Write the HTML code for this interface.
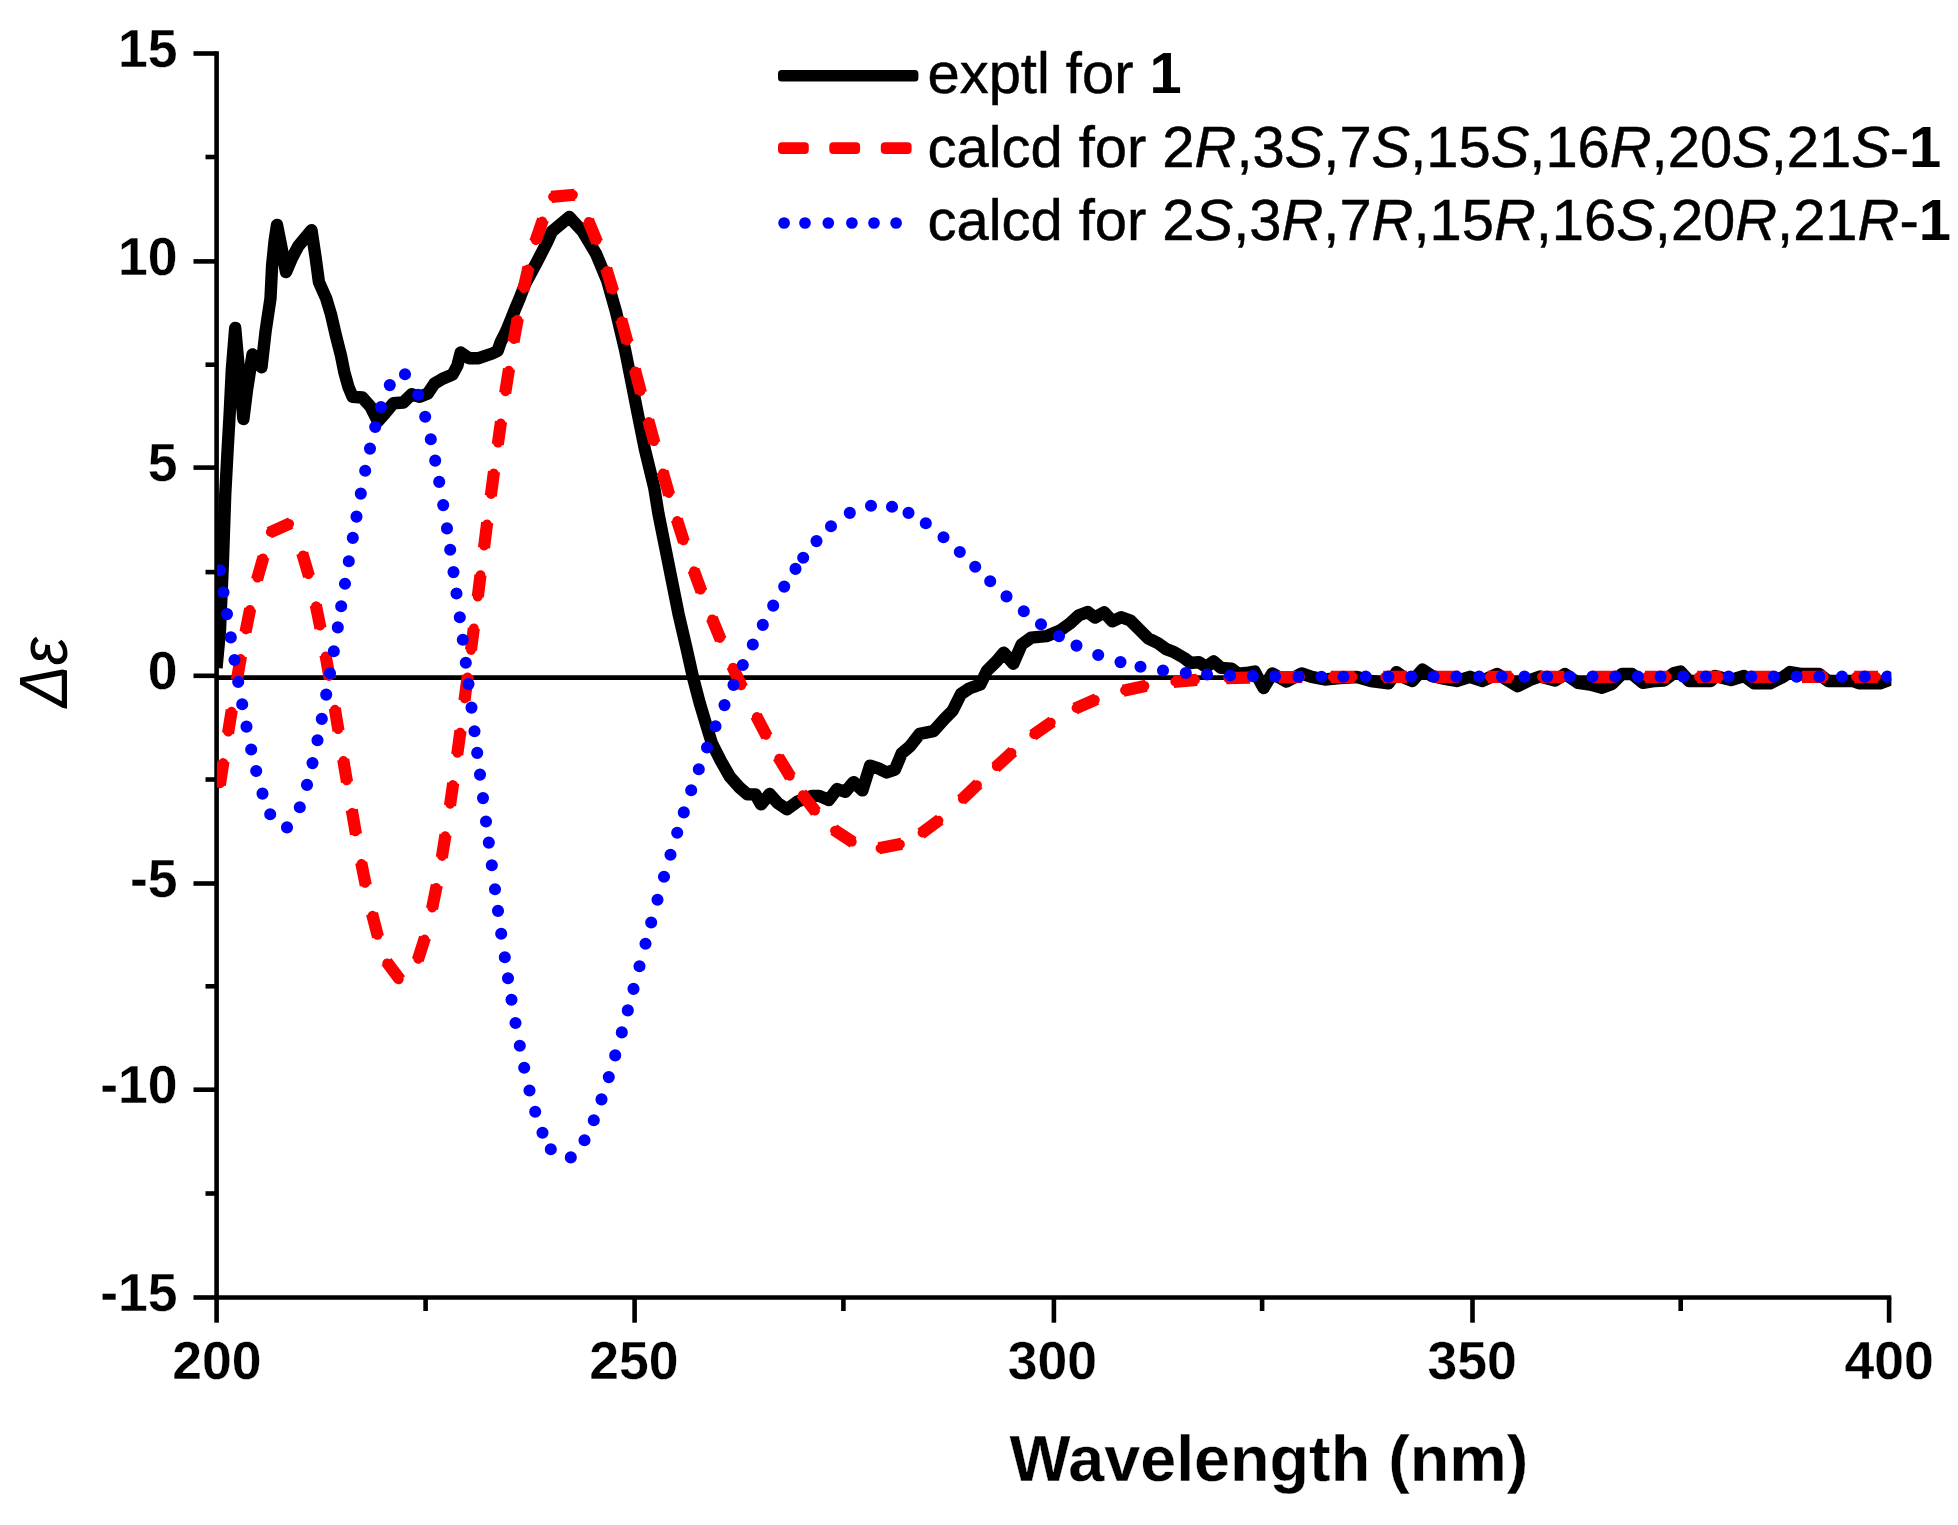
<!DOCTYPE html>
<html lang="en"><head><meta charset="utf-8"><title>ECD spectra</title>
<style>
html,body{margin:0;padding:0;background:#fff;}
body{width:1958px;height:1525px;overflow:hidden;}
svg{display:block;}
text{font-family:"Liberation Sans",Arial,sans-serif;fill:#000;}
.tk{font-weight:bold;font-size:53.5px;stroke:#fff;stroke-width:0.3px;}
.b{font-weight:bold;stroke:#fff;stroke-width:0.3px;}
.b1{font-weight:bold;stroke:none;}
.lg{font-size:57.9px;stroke:#000;stroke-width:0.5px;}
</style></head><body>
<svg width="1958" height="1525" viewBox="0 0 1958 1525">
<rect width="1958" height="1525" fill="#fff"/>

<g stroke="#000" stroke-width="4.6" fill="none" stroke-linecap="butt">
<path d="M216.6 51.2V1299.8"/>
<path d="M214.29999999999998 1297.5H1891.3"/>
<path d="M193.5 53.5H216.6"/>
<path d="M193.5 261.4H216.6"/>
<path d="M193.5 467.6H216.6"/>
<path d="M193.5 675.8H216.6"/>
<path d="M193.5 883.5H216.6"/>
<path d="M193.5 1089.7H216.6"/>
<path d="M193.5 1297.5H216.6"/>
<path d="M205.5 157.0H216.6"/>
<path d="M205.5 364.7H216.6"/>
<path d="M205.5 572.1H216.6"/>
<path d="M205.5 779.5H216.6"/>
<path d="M205.5 986.3H216.6"/>
<path d="M205.5 1193.5H216.6"/>
<path d="M216.6 1297.5V1322.7"/>
<path d="M634.6 1297.5V1322.7"/>
<path d="M1053.9 1297.5V1322.7"/>
<path d="M1472.5 1297.5V1322.7"/>
<path d="M1889.1 1297.5V1322.7"/>
<path d="M425.6 1297.5V1311"/>
<path d="M843.4 1297.5V1311"/>
<path d="M1262.1 1297.5V1311"/>
<path d="M1680.7 1297.5V1311"/>
</g>
<defs><clipPath id="pc"><rect x="216.9" y="40" width="1674.5" height="1255"/></clipPath></defs>
<path d="M216 677.6H1891" stroke="#000" stroke-width="4.6" fill="none"/>
<g clip-path="url(#pc)" fill="none">
<path stroke="#000" stroke-width="12.4" stroke-linejoin="round" stroke-linecap="butt" d="M216.5 668.0L220.0 630.0L222.8 565.0L225.2 495.0L227.6 450.0L229.6 415.0L231.8 370.0L235.2 328.0L238.5 365.0L243.4 419.0L247.0 390.0L252.5 354.5L257.0 360.0L261.5 367.2L265.6 331.1L270.5 298.4L272.1 265.6L274.6 241.0L277.0 225.0L281.0 245.0L286.0 272.1L292.0 258.0L298.4 245.9L305.0 238.0L311.5 230.3L315.6 257.4L318.9 282.0L326.2 298.4L331.1 314.8L336.0 336.0L341.0 355.7L344.3 372.1L348.4 386.9L352.5 396.7L362.3 397.5L370.5 406.6L377.9 421.3L385.2 413.1L393.4 403.3L403.3 402.5L411.5 394.3L419.7 396.7L427.9 393.4L434.4 383.6L442.6 378.7L452.5 374.6L457.4 365.6L460.7 352.5L468.9 358.2L478.7 358.2L492.3 353.5L497.6 351.0L500.7 342.0L506.0 331.5L511.2 318.9L515.4 308.4L519.6 298.5L525.2 283.9L536.4 263.0L547.2 242.0L551.9 231.5L569.3 217.0L582.6 231.4L596.0 253.7L607.1 280.4L616.0 311.7L625.0 349.6L631.7 383.0L638.3 416.5L645.0 449.9L654.3 488.0L658.4 513.5L665.1 546.9L671.8 580.4L678.5 613.8L686.3 647.3L693.0 677.4L699.7 703.0L706.4 725.3L711.9 743.2L720.9 761.0L729.8 776.6L739.8 787.8L747.6 794.4L755.4 794.4L761.0 804.4L769.7 794.0L777.8 803.2L787.0 809.3L797.6 801.5L812.3 795.9L819.2 795.9L828.8 800.0L837.1 789.0L845.4 791.8L853.6 782.1L862.4 790.4L870.1 765.6L878.4 768.4L886.7 772.5L894.9 769.7L901.8 753.2L910.1 746.3L919.7 733.9L933.5 731.2L944.5 718.8L952.7 710.6L961.0 694.0L969.2 688.5L980.3 684.4L987.1 670.6L996.8 661.0L1003.7 652.7L1013.3 663.7L1021.6 644.5L1031.2 637.6L1046.3 636.2L1060.1 630.5L1069.5 623.8L1078.5 615.6L1087.7 612.0L1095.0 617.5L1104.1 612.3L1112.3 621.3L1121.3 617.2L1130.3 620.5L1138.4 628.6L1148.2 638.4L1158.1 643.3L1166.2 649.1L1174.4 652.3L1184.2 658.0L1190.7 663.0L1198.9 662.1L1206.3 667.0L1213.6 661.3L1221.0 667.9L1231.6 668.7L1238.1 673.6L1246.0 673.0L1254.6 671.6L1263.6 688.0L1272.3 673.5L1286.5 681.5L1301.6 673.5L1311.7 676.9L1324.8 679.5L1340.0 678.0L1357.0 677.0L1371.0 681.0L1388.5 683.3L1396.5 672.2L1405.0 678.0L1412.3 681.0L1422.5 669.7L1432.0 676.0L1445.0 679.0L1456.5 681.0L1470.0 676.8L1482.0 681.0L1497.2 674.0L1517.5 686.2L1530.0 680.0L1540.0 676.5L1555.0 680.5L1565.0 674.0L1578.0 682.9L1590.0 684.5L1602.0 687.8L1612.0 684.0L1622.0 673.9L1632.0 674.0L1643.0 682.9L1655.0 681.0L1664.0 680.5L1674.0 673.0L1680.6 671.6L1689.0 681.0L1711.0 681.0L1715.0 676.0L1731.0 680.0L1744.0 676.0L1754.0 683.3L1770.0 683.3L1783.0 677.0L1790.0 672.0L1802.0 674.0L1819.0 674.0L1828.0 681.0L1853.0 681.0L1859.0 683.3L1880.0 683.3L1892.0 679.0"/>
<path stroke="#f00" stroke-width="12.2" stroke-linecap="butt" d="M219.8 785.0L223.5 761.4M228.0 733.2L231.8 710.1M236.8 680.3L241.0 656.2M245.5 632.1L250.2 608.7M257.0 579.6L263.5 556.9M269.2 532.7L290.7 523.1M302.2 553.1L309.0 576.2M315.8 605.0L320.5 628.3M325.5 654.9L329.8 678.9M334.8 708.2L338.5 730.7M343.2 759.4L347.0 781.9M351.8 809.9L356.0 834.2M361.2 862.6L365.8 885.3M372.0 913.6L378.0 936.7M386.5 961.6L400.2 979.8M417.8 960.1L425.0 937.7M432.0 908.8L436.8 885.3M441.8 857.4L445.5 834.7M450.0 805.5L453.2 783.2M457.2 754.7L460.5 730.7M464.5 700.5L467.8 675.4M471.0 650.0L473.8 628.3M477.8 596.7L480.5 575.1M484.0 547.7L487.2 522.5M490.8 495.9L494.0 471.6M497.8 444.4L501.0 421.6M505.2 393.0L509.0 369.0M513.5 342.0L517.8 318.3M523.2 290.5L528.5 267.2M535.2 241.9L543.0 219.6M551.3 196.9L574.7 194.7M588.0 220.2L597.2 242.3M606.2 268.5L613.2 291.4M621.2 319.4L627.5 342.3M634.8 369.4L641.0 392.9M648.2 420.0L654.5 443.0M662.5 471.5L669.2 494.7M676.8 519.3L684.0 541.9M693.5 569.8L701.5 591.7M711.8 618.1L720.8 639.8M732.2 666.0L742.2 687.5M756.0 715.6L767.0 736.6M778.2 756.8L790.5 777.0M801.5 793.3L816.0 811.9M833.8 829.6L853.2 842.4M878.8 848.3L901.8 843.7M921.0 833.6L939.8 819.6M961.2 800.2L978.2 783.9M995.5 767.4L1013.0 751.5M1032.8 735.3L1052.2 721.7M1075.0 708.7L1096.5 699.2M1123.2 690.7L1146.2 685.7M1173.5 681.8L1197.0 679.8M1226.2 678.2L1250.0 677.6M1278.5 677.1L1302.2 677.0M1330.8 676.9L1354.5 676.8M1383.2 676.8L1407.0 676.8M1435.5 676.8L1459.2 676.8M1487.8 676.8L1511.5 676.8M1540.2 676.8L1564.0 676.8M1592.5 676.8L1616.2 676.8M1645.0 676.8L1668.8 676.8M1697.2 676.8L1721.0 676.8M1749.8 676.8L1773.5 676.8M1802.0 676.8L1825.8 676.8M1854.2 676.8L1878.0 676.8"/>
<path stroke="#f00" stroke-width="9.8" stroke-linecap="round" d="M220.0 783.4L223.2 763.0M228.2 731.7L231.5 711.7M237.2 677.4L240.5 658.9M246.0 629.5L250.0 609.9M257.5 577.7L263.0 558.4M270.8 532.0L289.1 523.8M303.0 555.4L308.5 574.2M316.0 606.2L320.0 625.7M325.8 656.3L329.2 676.0M335.0 709.7L338.2 729.2M343.5 760.9L346.8 780.4M352.2 812.8L355.5 831.4M361.5 863.9L365.2 882.9M372.5 915.7L377.5 934.9M387.2 963.3L398.8 979.3M418.2 958.8L424.5 939.5M432.2 907.6L436.2 887.9M442.0 856.0L445.2 836.2M450.2 803.8L453.0 785.0M457.5 752.9L460.2 732.6M464.8 698.5L467.5 677.3M471.0 650.0L473.8 628.3M477.8 596.7L480.5 575.1M484.2 545.7L487.0 524.4M491.0 494.0L493.8 473.5M498.0 442.7L500.8 423.4M505.5 391.4L508.8 370.6M514.0 339.1L517.5 319.7M523.8 288.2L528.0 269.3M535.8 240.2L542.2 221.4M553.0 196.8L573.0 194.8M588.8 221.8L596.5 240.3M607.0 270.9L612.8 289.7M621.8 321.2L627.0 340.4M635.2 371.3L640.5 391.0M648.8 421.9L654.0 441.2M663.0 473.3L668.8 493.0M677.2 520.9L683.5 540.4M694.0 571.2L700.8 589.7M712.2 619.3L720.0 638.0M733.0 667.6L741.2 685.4M756.8 717.0L766.0 734.8M779.2 758.6L789.8 775.8M802.8 795.1L815.0 810.7M835.0 830.7L851.8 841.7M880.5 848.3L900.0 844.4M922.5 832.6L938.5 820.6M962.8 798.8L977.0 785.1M996.8 766.2L1011.5 752.8M1034.2 734.2L1050.8 722.6M1076.5 708.0L1094.8 699.9M1125.0 690.3L1144.5 686.0M1175.2 681.6L1195.0 679.9M1228.2 678.2L1248.0 677.6M1280.5 677.1L1300.2 677.0M1332.8 676.9L1352.5 676.8M1385.2 676.8L1405.0 676.8M1437.5 676.8L1457.2 676.8M1489.8 676.8L1509.5 676.8M1542.0 676.8L1562.0 676.8M1594.2 676.8L1614.2 676.8M1646.8 676.8L1666.8 676.8M1699.0 676.8L1719.0 676.8M1751.5 676.8L1771.5 676.8M1803.8 676.8L1823.8 676.8M1856.0 676.8L1876.0 676.8"/>
<path stroke="#00f" stroke-width="12.1" stroke-linecap="round" d="M220.0 570.2h0M223.5 592.2h0M227.0 614.1h0M230.8 637.4h0M234.5 660.0h0M238.2 681.9h0M242.2 704.3h0M246.5 726.6h0M251.2 749.5h0M256.2 771.0h0M262.5 793.6h0M270.2 814.2h0M287.0 827.4h0M299.8 807.3h0M307.0 784.9h0M312.5 763.1h0M317.5 740.3h0M321.8 718.9h0M326.2 694.6h0M330.0 673.3h0M333.8 651.3h0M337.8 627.4h0M341.2 606.3h0M345.0 583.7h0M348.8 561.3h0M352.8 537.9h0M356.5 516.6h0M360.8 493.6h0M365.2 470.7h0M370.0 448.6h0M375.2 427.0h0M381.0 407.0h0M389.8 385.1h0M405.0 374.3h0M418.2 394.8h0M425.2 416.8h0M430.8 439.2h0M435.2 460.6h0M439.2 481.9h0M443.2 505.1h0M447.0 528.4h0M450.2 549.8h0M453.5 572.1h0M456.5 593.5h0M459.8 617.3h0M462.8 639.8h0M465.8 662.7h0M468.5 684.1h0M471.5 707.6h0M474.5 731.2h0M477.2 752.9h0M480.0 774.6h0M483.0 798.1h0M486.0 821.5h0M488.8 842.6h0M491.8 865.3h0M495.0 889.3h0M498.0 910.9h0M501.2 933.7h0M504.8 957.3h0M508.0 978.3h0M511.5 999.8h0M515.5 1023.0h0M519.8 1045.8h0M524.2 1067.8h0M529.5 1090.5h0M535.2 1111.7h0M542.5 1132.8h0M550.8 1149.3h0M570.8 1157.4h0M584.5 1140.2h0M593.8 1120.3h0M601.5 1099.4h0M608.8 1077.1h0M615.2 1055.4h0M621.8 1032.4h0M627.8 1010.4h0M633.5 988.9h0M639.5 966.3h0M645.5 943.8h0M651.2 922.5h0M657.5 899.8h0M664.0 876.8h0M670.5 854.7h0M677.2 832.7h0M683.8 812.4h0M691.2 790.3h0M698.8 769.3h0M707.0 747.5h0M715.5 726.3h0M724.5 705.1h0M733.5 684.9h0M742.8 665.0h0M752.8 644.5h0M762.8 624.9h0M773.2 605.6h0M784.2 586.6h0M795.5 568.9h0M803.2 557.8h0M816.5 541.1h0M831.0 526.3h0M849.8 512.9h0M871.0 505.8h0M892.0 506.8h0M908.5 512.9h0M925.8 523.2h0M943.5 537.2h0M959.8 552.0h0M975.2 566.8h0M990.2 581.3h0M1006.5 596.4h0M1023.8 611.2h0M1041.0 624.3h0M1059.0 636.1h0M1076.5 645.6h0M1098.2 655.0h0M1120.5 662.1h0M1140.5 666.8h0M1163.0 670.5h0M1185.8 673.0h0M1207.0 674.5h0M1230.0 675.5h0M1252.8 676.1h0M1275.0 676.4h0M1298.5 676.6h0M1321.5 676.7h0M1343.5 676.8h0M1365.7 676.6h0M1388.4 676.6h0M1411.1 676.6h0M1433.7 676.6h0M1456.4 676.6h0M1479.1 676.6h0M1501.8 676.6h0M1524.5 676.6h0M1547.1 676.6h0M1569.8 676.6h0M1592.5 676.6h0M1615.2 676.6h0M1637.9 676.6h0M1660.5 676.6h0M1683.2 676.6h0M1705.9 676.6h0M1728.6 676.6h0M1751.3 676.6h0M1773.9 676.6h0M1796.6 676.6h0M1819.3 676.6h0M1842.0 676.6h0M1864.7 676.6h0M1887.3 676.6h0"/>
</g>
<text class="tk" x="177.5" y="67.2" text-anchor="end">15</text>
<text class="tk" x="177.5" y="275.1" text-anchor="end">10</text>
<text class="tk" x="177.5" y="481.3" text-anchor="end">5</text>
<text class="tk" x="177.5" y="688.5" text-anchor="end">0</text>
<text class="tk" x="177.5" y="897.2" text-anchor="end">-5</text>
<text class="tk" x="177.5" y="1103.4" text-anchor="end">-10</text>
<text class="tk" x="177.5" y="1311.2" text-anchor="end">-15</text>
<text class="tk" x="216.8" y="1378.5" text-anchor="middle">200</text>
<text class="tk" x="633.9" y="1378.5" text-anchor="middle">250</text>
<text class="tk" x="1052.5" y="1378.5" text-anchor="middle">300</text>
<text class="tk" x="1472.1" y="1378.5" text-anchor="middle">350</text>
<text class="tk" x="1889.2" y="1378.5" text-anchor="middle">400</text>
<text x="1268.9" y="1481" text-anchor="middle" class="b" font-size="64.7">Wavelength (nm)</text>
<text transform="translate(67 707.5) rotate(-90)" font-style="italic" font-size="68" textLength="70" lengthAdjust="spacingAndGlyphs">Δε</text>
<rect x="778" y="69.9" width="140.4" height="11.7" rx="3.5" fill="#000"/>
<rect x="778" y="142.2" width="30.8" height="11.8" rx="4" fill="#f00"/>
<rect x="829.3" y="142.2" width="30.8" height="11.8" rx="4" fill="#f00"/>
<rect x="880.8" y="142.2" width="30.8" height="11.8" rx="4" fill="#f00"/>
<path d="M784.1 223h0M805 223h0M828.3 223h0M851.9 223h0M874 223h0M896.1 223h0" stroke="#00f" stroke-width="11.7" stroke-linecap="round" fill="none"/>
<text class="lg" x="927.5" y="92.8">exptl for <tspan class="b1">1</tspan></text>
<text class="lg" x="927.5" y="167.1">calcd for 2<tspan font-style="italic">R</tspan>,3<tspan font-style="italic">S</tspan>,7<tspan font-style="italic">S</tspan>,15<tspan font-style="italic">S</tspan>,16<tspan font-style="italic">R</tspan>,20<tspan font-style="italic">S</tspan>,21<tspan font-style="italic">S</tspan>-<tspan class="b1">1</tspan></text>
<text class="lg" x="927.5" y="240">calcd for 2<tspan font-style="italic">S</tspan>,3<tspan font-style="italic">R</tspan>,7<tspan font-style="italic">R</tspan>,15<tspan font-style="italic">R</tspan>,16<tspan font-style="italic">S</tspan>,20<tspan font-style="italic">R</tspan>,21<tspan font-style="italic">R</tspan>-<tspan class="b1">1</tspan></text>
</svg></body></html>
